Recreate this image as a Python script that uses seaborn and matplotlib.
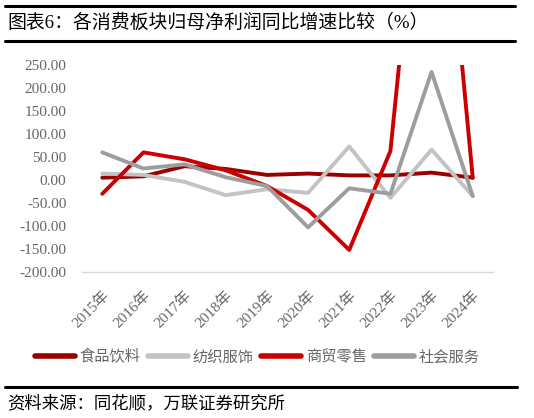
import numpy as np
import pandas as pd
import matplotlib
matplotlib.use('Agg')
import matplotlib.pyplot as plt
from matplotlib.lines import Line2D
from matplotlib.ticker import StrMethodFormatter
import seaborn as sns

# 数据
years = ['2015年', '2016年', '2017年', '2018年', '2019年',
         '2020年', '2021年', '2022年', '2023年', '2024年']
food = [5, 8, 30, 24, 11, 14, 10, 10, 16, 5]            # 食品饮料
textile = [14, 11, -4, -33, -20, -28, 73, -39, 66, -35]  # 纺织服饰
retail = [-30, 60, 45, 21, -13, -65, -152, 63, 950, 5]   # 商贸零售
service = [60, 25, 34, 6, -13, -103, -18, -30, 235, -35]  # 社会服务
series_names = ['食品饮料', '纺织服饰', '商贸零售', '社会服务']
yticks = list(range(-200, 251, 50))

palette = {'食品饮料': '#9a0000', '纺织服饰': '#c3c3c3',
           '商贸零售': '#cc0000', '社会服务': '#9d9d9d'}

df = pd.DataFrame({
    'year': years * 4,
    'value': food + textile + retail + service,
    'series': np.repeat(series_names, len(years)),
})

sns.set_theme(style='white')
plt.rcParams['font.family'] = ['Liberation Serif', 'Noto Sans CJK SC']
plt.rcParams['axes.unicode_minus'] = False

fig = plt.figure(figsize=(5.34, 4.18), dpi=100)
ax = fig.add_axes([0.153, 0.3493, 0.7708, 0.4952])

sns.lineplot(data=df, x='year', y='value', hue='series', hue_order=series_names,
             palette=palette, linewidth=2.8, sort=False, ax=ax, legend=True)
for ln in ax.get_lines():
    ln.set_solid_joinstyle('round')

ax.set_xlim(-0.5, 9.5)
ax.set_ylim(-200, 250)
ax.set_yticks(yticks)
ax.yaxis.set_major_formatter(StrMethodFormatter('{x:.2f}'))
ax.tick_params(axis='y', length=0, pad=11, labelsize=11, labelcolor='#666666')

ax.set_xticks(range(len(years)))
ax.set_xticklabels(years, rotation=45, ha='right', va='top', rotation_mode='anchor')
ax.set_xticks(np.arange(-0.5, len(years), 1), minor=True)
ax.tick_params(axis='x', which='major', length=0, pad=12, labelsize=11, labelcolor='#666666')
ax.tick_params(axis='x', which='minor', length=2.6, width=1, color='#d9d9d9', direction='out')
ax.set_xlabel('')
ax.set_ylabel('')
for s in ['left', 'top', 'right']:
    ax.spines[s].set_visible(False)
ax.spines['bottom'].set_color('#d9d9d9')
ax.spines['bottom'].set_linewidth(1)

# 图例
handles, labels = ax.get_legend_handles_labels()
ax.get_legend().remove()
leg = fig.legend(handles, labels, loc='center', bbox_to_anchor=(257.5 / 534, 1 - 357 / 418),
                 ncol=4, frameon=False, fontsize=11, handlelength=2.6, handletextpad=0.3,
                 columnspacing=0.5, labelcolor='#666666')
for ln in leg.get_lines():
    ln.set_linewidth(4)
    ln.set_solid_capstyle('round')

# 标题与横线
fig.text(7 / 534, 1 - 23 / 418, '图表6：各消费板块归母净利润同比增速比较（%）',
         fontsize=13.6, va='center', ha='left', color='black')
for y, x1 in [(6, 515), (40.5, 515), (387, 517)]:
    fig.add_artist(Line2D([5 / 534, x1 / 534], [1 - y / 418] * 2, lw=2.2, color='black'))
fig.text(7 / 534, 1 - 404 / 418, '资料来源：同花顺，万联证券研究所',
         fontsize=12.5, va='center', ha='left', color='black', style='italic')

fig.savefig('out.png', dpi=100)
